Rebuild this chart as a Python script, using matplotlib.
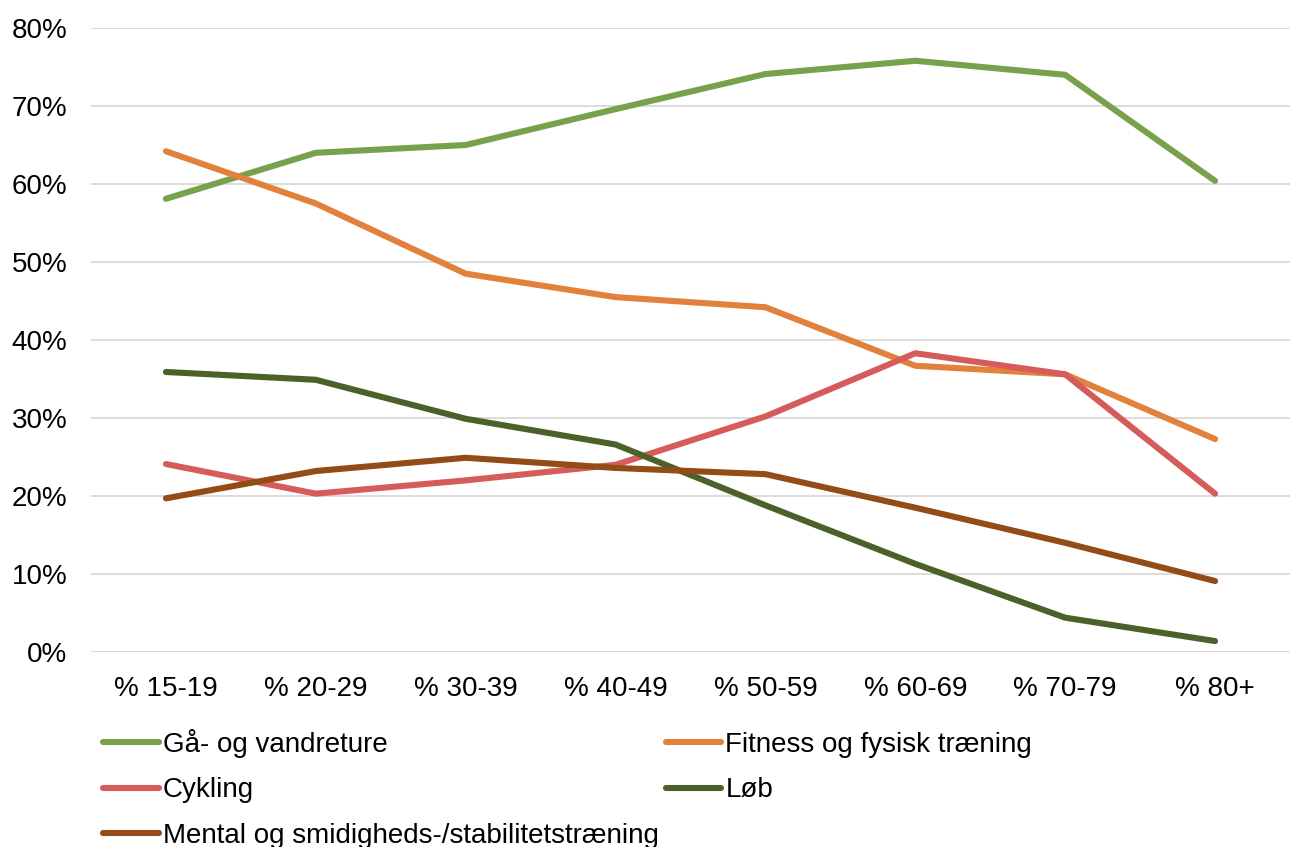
import matplotlib
matplotlib.use("Agg")
import matplotlib.pyplot as plt
from matplotlib.ticker import FuncFormatter

CATEGORIES = ["% 15-19", "% 20-29", "% 30-39", "% 40-49", "% 50-59", "% 60-69", "% 70-79", "% 80+"]

GAA = [58.1, 64.0, 65.0, 69.6, 74.1, 75.8, 74.0, 60.4]
FITNESS = [64.2, 57.5, 48.5, 45.5, 44.2, 36.7, 35.6, 27.3]
CYKLING = [24.1, 20.3, 22.0, 24.0, 30.2, 38.3, 35.6, 20.3]
LOEB = [35.9, 34.9, 29.9, 26.6, 18.8, 11.3, 4.4, 1.4]
MENTAL = [19.7, 23.2, 24.9, 23.6, 22.8, 18.5, 14.0, 9.1]

SERIES = [
    ("Gå- og vandreture", GAA, "#77a24b"),
    ("Fitness og fysisk træning", FITNESS, "#e2813c"),
    ("Cykling", CYKLING, "#d55c5a"),
    ("Løb", LOEB, "#4b6129"),
    ("Mental og smidigheds-/stabilitetstræning", MENTAL, "#934b17"),
]

plt.rcParams.update({
    "font.family": ["Liberation Sans", "DejaVu Sans"],
    "font.size": 20,
})

fig = plt.figure(figsize=(12.91, 8.47), dpi=100)
ax = fig.add_axes([91 / 1291, 1 - 652 / 847, 1199 / 1291, 624 / 847])

x = list(range(len(CATEGORIES)))
lines = {}
for name, vals, col in SERIES:
    (ln,) = ax.plot(x, vals, color=col, linewidth=4.4, solid_capstyle="round",
                    solid_joinstyle="round", label=name, zorder=3)
    lines[name] = ln

ax.set_xlim(-0.5, len(CATEGORIES) - 0.5)
ax.set_ylim(0, 80)
ax.set_yticks(range(0, 81, 10))
ax.yaxis.set_major_formatter(FuncFormatter(lambda v, _: f"{v:.0f}%"))
ax.set_xticks(x)
ax.set_xticklabels(CATEGORIES)
ax.tick_params(length=0, labelsize=20, colors="black")
ax.tick_params(axis="y", pad=17)
ax.tick_params(axis="x", pad=17)
ax.grid(axis="y", color="#d9d9d9", linewidth=1.3)
ax.set_axisbelow(True)
for s in ax.spines.values():
    s.set_visible(False)
ax.axhline(0, color="#d9d9d9", linewidth=1.3, zorder=1)

# row-major order in the reference, so reorder for column-filling legend
order = ["Gå- og vandreture", "Cykling", "Mental og smidigheds-/stabilitetstræning",
         "Fitness og fysisk træning", "Løb"]
fig.legend([lines[n] for n in order], order, ncol=2, frameon=False,
           loc="upper left", bbox_to_anchor=(103 / 1291, 1 - 729 / 847),
           borderpad=0, borderaxespad=0, handlelength=2.0, handletextpad=0.15,
           columnspacing=0.25, labelspacing=0.7, fontsize=20)

fig.savefig("out.png", dpi=100)
